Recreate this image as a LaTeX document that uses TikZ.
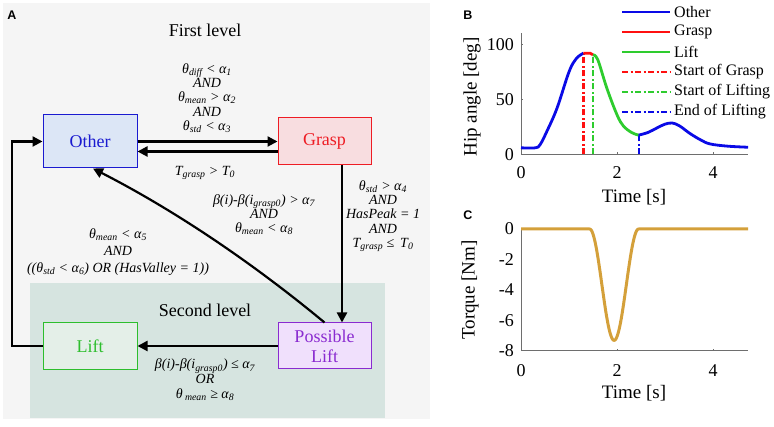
\documentclass[tikz,border=0pt]{standalone}
\usepackage{fontspec}
\setmainfont{Liberation Serif}
\setsansfont{Liberation Sans}
\usetikzlibrary{arrows.meta}
\definecolor{panelgray}{HTML}{F5F5F5}
\definecolor{teal2}{HTML}{D6E4E0}
\definecolor{otherfill}{HTML}{DCE6F6}
\definecolor{otherdraw}{HTML}{1A1AD0}
\definecolor{graspfill}{HTML}{F8DDE0}
\definecolor{graspdraw}{HTML}{EE1C24}
\definecolor{liftfill}{HTML}{E4EFE8}
\definecolor{liftdraw}{HTML}{2DBE2D}
\definecolor{posfill}{HTML}{F0E0FC}
\definecolor{posdraw}{HTML}{8A2BD0}
\definecolor{axgray}{HTML}{6E6E6E}
\definecolor{cblue}{HTML}{0A0AE6}
\definecolor{cred}{HTML}{FF1010}
\definecolor{cgreen}{HTML}{2ECC2E}
\definecolor{cgold}{HTML}{D4A03A}
\newcommand\sbs[1]{\textsubscript{#1}}
\newcommand\condfont[1]{\fontsize{14}{#1}\selectfont\itshape\lineskiplimit=-30pt\relax}
\tikzset{
  arr/.style={line width=2.2pt, -{Triangle[length=10pt,width=10pt]}},
  statebox/.style={draw, line width=1pt, inner sep=0pt, align=center,
    font=\fontsize{18}{20}\selectfont},
  cond/.style={align=center, inner sep=0pt, font=\condfont{14.3}},
  lvl/.style={inner sep=0pt, font=\fontsize{18}{20}\selectfont},
  ticklab/.style={inner sep=0pt, font=\fontsize{18}{20}\selectfont},
  axlab/.style={inner sep=0pt, font=\fontsize{19}{21}\selectfont},
  leg/.style={anchor=west, inner sep=0pt, font=\fontsize{16}{18}\selectfont},
  axisline/.style={draw=axgray, line width=1pt},
  panlab/.style={inner sep=0pt, font=\sffamily\bfseries\fontsize{12.5}{14}\selectfont},
  curve/.style={line width=2.8pt, line join=round},
  dashdot/.style={line width=2.2pt, dash pattern=on 6pt off 2.5pt on 2pt off 2.5pt}
}
\begin{document}
\begin{tikzpicture}[x=1pt,y=-1pt]
\useasboundingbox (0,0) rectangle (774,427);
% ---------- panel A ----------
\fill[panelgray] (3,3) rectangle (430,419);
\fill[teal2] (30,283) rectangle (385,418);
\node[panlab] (labA) at (12,15) {A};
\node[lvl] (first) at (205,30) {First level};
\node[lvl] (second) at (205,310) {Second level};

\node[statebox, fill=otherfill, draw=otherdraw, text=otherdraw,
  minimum width=94pt, minimum height=53pt] (Other) at (90,141.5) {Other};
\node[statebox, fill=graspfill, draw=graspdraw, text=graspdraw,
  minimum width=93pt, minimum height=47pt] (Grasp) at (324.5,141.5) {Grasp};
\node[statebox, fill=liftfill, draw=liftdraw, text=liftdraw,
  minimum width=94pt, minimum height=47pt] (Lift) at (90,346) {Lift};
\node[statebox, fill=posfill, draw=posdraw, text=posdraw,
  minimum width=93pt, minimum height=46pt] (Possible) at (324.5,346) {Possible\\Lift};

\coordinate (leftx) at (12,250);
\draw[arr] (Other.east) -- (Grasp.west);
\draw[arr] ([yshift=-10pt]Grasp.west) -- ([yshift=-10pt]Other.east);
\draw[arr] ([xshift=17.5pt]Grasp.south) -- ([xshift=17.5pt]Possible.north);
\draw[arr] (Possible.west) -- (Lift.east);
\draw[arr] (Lift.west) -- (Lift.west -| leftx) |- (Other.west);
\draw[arr] (Possible.north) .. controls (254,264) and (176,211) .. ([xshift=3pt]Other.south);

\node[cond] (c1) at (207,98) {θ\sbs{diff} < α\sbs{1}\\AND\\θ\sbs{mean} > α\sbs{2}\\AND\\θ\sbs{std} < α\sbs{3}};
\node[cond] (c2) at (205,173) {T\sbs{grasp} > T\sbs{0}};
\node[cond] (c3) at (383,216) {θ\sbs{std} > α\sbs{4}\\AND\\HasPeak = 1\\AND\\T\sbs{grasp} ≤\, T\sbs{0}};
\node[cond, font=\condfont{14}] (c4) at (264,215) {β(i)-β(i\sbs{grasp0}) > α\sbs{7}\\AND\\θ\sbs{mean} < α\sbs{8}};
\node[cond, font=\condfont{17}] (c5) at (118,252) {θ\sbs{mean} < α\sbs{5}\\AND\\((θ\sbs{std} < α\sbs{6}) OR (HasValley = 1))};
\node[cond, font=\condfont{14.8}] (c6) at (205,380) {β(i)-β(i\sbs{grasp0}) ≤ α\sbs{7}\\OR\\θ\,\sbs{mean} ≥ α\sbs{8}};

% ---------- panel B ----------
\node[panlab] (labB) at (468,15) {B};
\begin{scope}[shift={(521,154.4)}, x=48pt, y=1.1pt]
  \draw[axisline] (0,110) -- (0,0) -- (4.73,0);
  \draw[axisline] (2,0) -- (2,2.5) (4,0) -- (4,2.5);
  \draw[axisline] (0,50) -- (0.05,50) (0,100) -- (0.05,100);
  \draw[cred, dashdot] (1.3,0) -- (1.3,92);
  \draw[cgreen, dashdot] (1.5,0) -- (1.5,90);
  \draw[cblue, dashdot] (2.45,0) -- (2.45,17.5);
  \draw[cblue, curve] plot[smooth, tension=0.6] coordinates {(0,6) (0.3,6) (0.4,9) (0.55,22) (0.75,42) (1.0,75) (1.15,87) (1.3,92)};
  \draw[cred, curve] (1.3,92) -- (1.44,92) -- (1.5,90.5);
  \draw[cgreen, curve] plot[smooth, tension=0.6] coordinates {(1.5,90.5) (1.6,86) (1.79,60) (2.0,36) (2.13,26) (2.3,20) (2.45,17.5)};
  \draw[cblue, curve] plot[smooth, tension=0.6] coordinates {(2.45,17.5) (2.65,20) (2.83,24) (3.0,27.5) (3.15,28.5) (3.3,26) (3.52,19) (3.75,13) (3.94,9.5) (4.3,7.5) (4.73,6.5)};
\end{scope}
\node[ticklab, anchor=east] (b0) at (514,155) {0};
\node[ticklab, anchor=east] (b50) at (514,99.5) {50};
\node[ticklab, anchor=east] (b100) at (514,44.5) {100};
\node[ticklab] (bx0) at (521,173) {0};
\node[ticklab] (bx2) at (617,173) {2};
\node[ticklab] (bx4) at (713,173) {4};
\node[axlab] (bxl) at (634,197) {Time [s]};
\node[axlab, rotate=90] (byl) at (472,97) {Hip angle [deg]};

% legend
\draw[cblue, line width=2.6pt] (622,12) -- (670,12);
\draw[cred, line width=2.6pt] (622,32) -- (670,32);
\draw[cgreen, line width=2.6pt] (622,52) -- (670,52);
\draw[cred, dashdot] (622,72) -- (670,72);
\draw[cgreen, dashdot] (622,92) -- (670,92);
\draw[cblue, dashdot] (622,112) -- (670,112);
\node[leg] (l1) at (674,12) {Other};
\node[leg] (l2) at (674,32) {Grasp};
\node[leg] (l3) at (674,52) {Lift};
\node[leg] (l4) at (674,72) {Start of Grasp};
\node[leg] (l5) at (674,92) {Start of Lifting};
\node[leg] (l6) at (674,112) {End of Lifting};

% ---------- panel C ----------
\node[panlab] (labC) at (468,215) {C};
\begin{scope}[shift={(521,229)}, x=48pt, y=15.25pt]
  \draw[axisline] (0,0) -- (0,-8) -- (4.73,-8);
  \draw[axisline] (2,-8) -- (2,-7.85) (4,-8) -- (4,-7.85);
  \draw[cgold, line width=3pt, line join=round] (0,0) -- (1.43,0) -- plot[domain=1.43:2.45, samples=80] (\x, {-7.3*(1+cos(180*(\x-1.94)/0.51))/2}) -- (4.73,0);
\end{scope}
\node[ticklab, anchor=east] (c0) at (514,229) {0};
\node[ticklab, anchor=east] (cm2) at (514,259.5) {-2};
\node[ticklab, anchor=east] (cm4) at (514,290) {-4};
\node[ticklab, anchor=east] (cm6) at (514,320.5) {-6};
\node[ticklab, anchor=east] (cm8) at (514,351) {-8};
\node[ticklab] (cx0) at (521,371) {0};
\node[ticklab] (cx2) at (617,371) {2};
\node[ticklab] (cx4) at (713,371) {4};
\node[axlab] (cxl) at (634,393) {Time [s]};
\node[axlab, rotate=90] (cyl) at (470,290) {Torque [Nm]};
\end{tikzpicture}
\end{document}
